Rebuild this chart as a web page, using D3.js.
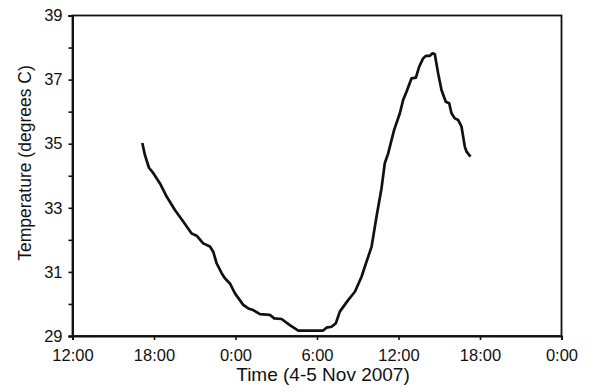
<!DOCTYPE html>
<html>
<head>
<meta charset="utf-8">
<script src="https://cdn.jsdelivr.net/npm/d3@7"></script>
<style>
  body { margin: 0; background: #fff; }
  text { font-family: "Liberation Sans", Arial, sans-serif; fill: #111; }
</style>
</head>
<body>
<svg id="chart" width="591" height="392"></svg>
<script>
// hours after 12:00 on 4 Nov 2007
var hours = [5.14, 5.33, 5.63, 5.95, 6.44, 6.93, 7.54, 8.15, 8.77, 9.14, 9.62, 10.12, 10.36, 10.61, 10.98,
    11.22, 11.59, 11.96, 12.57, 12.94, 13.30, 13.80, 14.53, 14.85, 15.39, 16.00, 16.62, 18.45, 18.70,
    19.07, 19.39, 19.68, 20.29, 20.79, 21.28, 21.52, 22.02, 22.38, 22.75, 22.99, 23.24, 23.49, 23.68,
    24.10, 24.34, 24.59, 24.96, 25.28, 25.52, 25.81, 26.01, 26.31, 26.50, 26.67, 26.92, 27.17, 27.48,
    27.73, 27.90, 28.15, 28.39, 28.64, 28.88, 29.01, 29.30];
var temps = [35.02, 34.65, 34.25, 34.08, 33.76, 33.35, 32.93, 32.57, 32.2, 32.13, 31.89, 31.79, 31.63, 31.27, 30.96,
    30.8, 30.64, 30.33, 29.97, 29.86, 29.81, 29.68, 29.66, 29.55, 29.53, 29.34, 29.17, 29.17, 29.26,
    29.29, 29.4, 29.76, 30.12, 30.38, 30.85, 31.16, 31.79, 32.72, 33.61, 34.39, 34.7, 35.12, 35.43,
    35.95, 36.36, 36.62, 37.04, 37.06, 37.4, 37.66, 37.74, 37.74, 37.82, 37.8, 37.19, 36.67, 36.31,
    36.26, 35.95, 35.79, 35.74, 35.53, 34.91, 34.75, 34.6];
var yTicks = [29, 31, 33, 35, 37, 39];
var yMinor = [30, 32, 34, 36, 38];

var margin = {left: 72.5, top: 15.5, right: 29.5, bottom: 56};
var width = 591 - margin.left - margin.right;
var height = 392 - margin.top - margin.bottom;

var t0 = new Date(2007, 10, 4, 12, 0);
var t1 = new Date(2007, 10, 6, 0, 0);
function toDate(h) { return new Date(t0.getTime() + h * 3600e3); }

var data = hours.map(function(h, i) { return {t: toDate(h), v: temps[i]}; });

var svg = d3.select("#chart")
    .append("g")
    .attr("transform", "translate(" + margin.left + "," + margin.top + ")");

var x = d3.scaleTime().domain([t0, t1]).range([0, width]);
var y = d3.scaleLinear().domain([29, 39]).range([height, 0]);

// frame (top and right)
svg.append("rect")
    .attr("width", width).attr("height", height)
    .attr("fill", "none").attr("stroke", "#111").attr("stroke-width", 1.8);

svg.append("g")
    .attr("transform", "translate(0," + height + ")")
    .call(d3.axisBottom(x)
        .ticks(d3.timeHour.every(6))
        .tickFormat(d3.timeFormat("%-H:%M"))
        .tickSize(4)
        .tickPadding(9));

svg.append("g")
    .call(d3.axisLeft(y).tickValues(yTicks).tickSize(4).tickPadding(6));

svg.append("g")
    .call(d3.axisLeft(y).tickValues(yMinor).tickSize(4).tickFormat(""));

svg.selectAll(".domain").attr("stroke", "#111").attr("stroke-width", 1.8);
svg.selectAll(".tick line").attr("stroke", "#111").attr("stroke-width", 1.6);
svg.selectAll(".tick text").style("font-size", "16.5px").attr("fill", "#111");

svg.append("path")
    .datum(data)
    .attr("fill", "none")
    .attr("stroke", "#111")
    .attr("stroke-width", 2.7)
    .attr("stroke-linejoin", "round")
    .attr("d", d3.line().x(function(d) { return x(d.t); }).y(function(d) { return y(d.v); }));

svg.append("text")
    .attr("x", width / 2 + 6).attr("y", height + 45)
    .attr("text-anchor", "middle")
    .style("font-size", "19px")
    .text("Time (4-5 Nov 2007)");

svg.append("text")
    .attr("transform", "translate(" + (31 - margin.left) + "," + (163 - margin.top) + ") rotate(-90)")
    .attr("text-anchor", "middle")
    .style("font-size", "17.5px")
    .text("Temperature (degrees C)");
</script>
</body>
</html>
